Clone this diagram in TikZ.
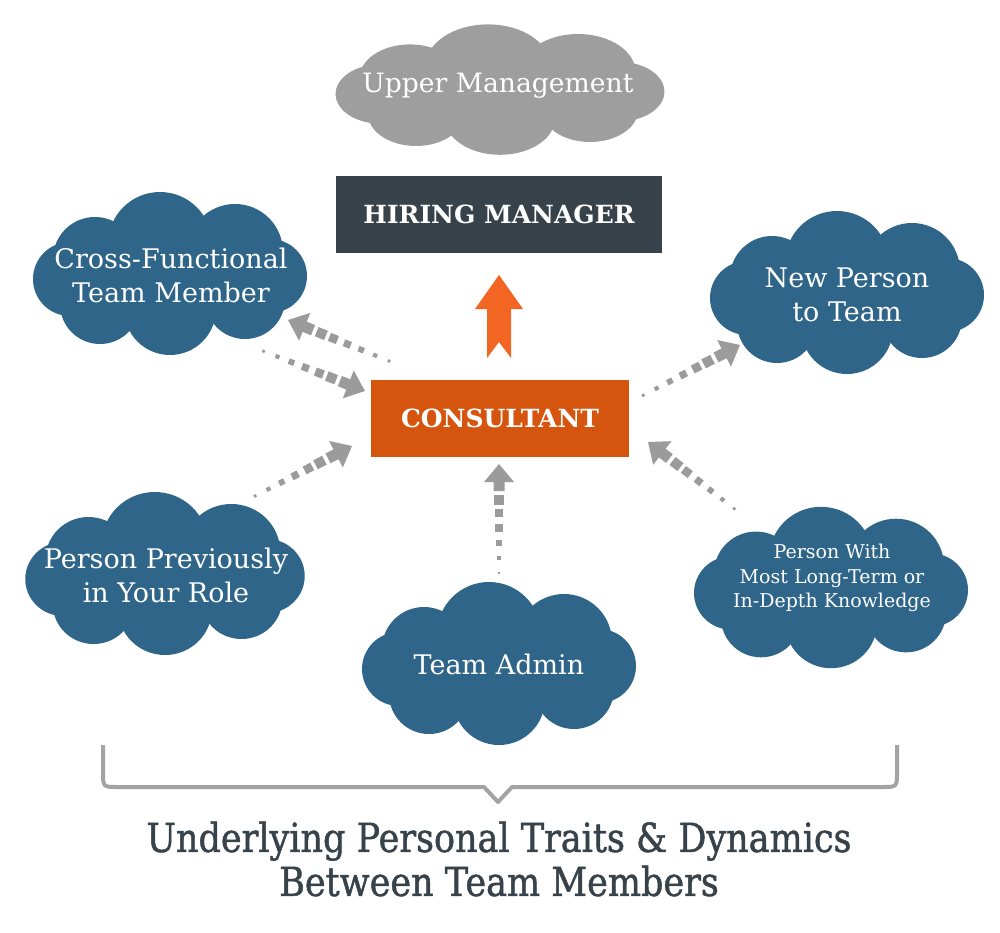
\documentclass[tikz,border=0pt]{standalone}
\usepackage{fontspec}
\setmainfont{DejaVu Serif}
\newfontfamily\bottomfont[FakeStretch=0.875,FakeBold=1.2]{DejaVu Serif}
\definecolor{cloudblue}{HTML}{2E6589}
\definecolor{cloudgray}{HTML}{9E9E9E}
\definecolor{hmdark}{HTML}{37424A}
\definecolor{consorange}{HTML}{D5550F}
\definecolor{uparrow}{HTML}{F26522}
\definecolor{arrowgray}{HTML}{9B9B9B}
\definecolor{bracegray}{HTML}{A3A3A3}
\usetikzlibrary{decorations.markings}
% cloud drawn as a union of ellipses: centre, xscale, yscale, colour
\newcommand\puffcloud[4]{%
  \begin{scope}[shift={(#1)}, xscale=#2, yscale=#3]
    \fill[#4] (0,0) ellipse [x radius=100, y radius=52];
    \fill[#4] (-10,-30) circle [radius=52];
    \fill[#4] (-75,-15) circle [radius=42];
    \fill[#4] (65,-22) circle [radius=48];
    \fill[#4] (-100,5) circle [radius=37];
    \fill[#4] (100,2) circle [radius=37];
    \fill[#4] (-70,30) circle [radius=40];
    \fill[#4] (0,35) circle [radius=46];
    \fill[#4] (75,25) circle [radius=40];
  \end{scope}}
\tikzset{
  cloudtext/.style={text=white, align=center, font=\fontsize{27}{34}\selectfont},
  boxshape/.style={minimum width=#1, minimum height=77pt, inner sep=0pt, text=white, font=\bfseries\fontsize{25}{28}\selectfont},
  dotarrow/.style={decorate, decoration={markings,
    mark=at position -109pt with {\fill[arrowgray] (-1.4pt,-1.4pt) rectangle (1.4pt,1.4pt);},
    mark=at position -94pt with {\fill[arrowgray] (-2.1pt,-2.1pt) rectangle (2.1pt,2.1pt);},
    mark=at position -79pt with {\fill[arrowgray] (-2.9pt,-2.9pt) rectangle (2.9pt,2.9pt);},
    mark=at position -64pt with {\fill[arrowgray] (-3.6pt,-3.6pt) rectangle (3.6pt,3.6pt);},
    mark=at position -49pt with {\fill[arrowgray] (-4.3pt,-4.3pt) rectangle (4.3pt,4.3pt);},
    mark=at position -36pt with {\fill[arrowgray] (-5pt,-5pt) rectangle (5pt,5pt);},
    mark=at position -0.5pt with {\fill[arrowgray] (0.5pt,0pt) -- (-17.5pt,15pt) -- (-17.5pt,5.5pt) -- (-26.5pt,5.5pt) -- (-26.5pt,-5.5pt) -- (-17.5pt,-5.5pt) -- (-17.5pt,-15pt) -- cycle;}
  }}
}
\begin{document}
\begin{tikzpicture}[x=1pt,y=-1pt]
\useasboundingbox (0,0) rectangle (1000,933);

% clouds
\puffcloud{500,90}{1.2}{0.8}{cloudgray}
\node[cloudtext, font=\fontsize{26.6}{34}\selectfont] (tum) at (498,86) {Upper Management};

\puffcloud{170,274}{1}{1}{cloudblue}
\node[cloudtext] (tcf) at (171,275) {Cross-Functional\\Team Member};

\puffcloud{847,293}{1}{1}{cloudblue}
\node[cloudtext] (tnp) at (847,295) {New Person\\to Team};

\puffcloud{165,574}{1.02}{1}{cloudblue}
\node[cloudtext] (tpp) at (166,575) {Person Previously\\in Your Role};

\puffcloud{499,664}{1}{1}{cloudblue}
\node[cloudtext] (tta) at (499,664) {Team Admin};

\puffcloud{831,588}{1}{0.99}{cloudblue}
\node[cloudtext, font=\fontsize{19}{24.5}\selectfont] (tpw) at (832,578) {Person With\\Most Long-Term or\\In-Depth Knowledge};

% boxes
\node[boxshape=326pt, fill=hmdark] (hm) at (499,214.5) {HIRING MANAGER};
\node[boxshape=258pt, fill=consorange] (cons) at (500,418) {CONSULTANT};

% orange up arrow
\fill[uparrow] (499,275) -- (523,309) -- (511,309) -- (511,358) -- (499,342) -- (487,358) -- (487,309) -- (475,309) -- cycle;

% dotted arrows
\coordinate (a1t) at (389,361); \coordinate (a1h) at (288,320);
\coordinate (a2t) at (263,351); \coordinate (a2h) at (365,391);
\coordinate (a3t) at (255,496); \coordinate (a3h) at (352,446);
\coordinate (a4t) at (638,398); \coordinate (a4h) at (740,345);
\coordinate (a5t) at (736,510); \coordinate (a5h) at (648,442);
\coordinate (a6t) at (499,575); \coordinate (a6h) at (499,464);
\path[dotarrow] (a1t) -- (a1h);
\path[dotarrow] (a2t) -- (a2h);
\path[dotarrow] (a3t) -- (a3h);
\path[dotarrow] (a4t) -- (a4h);
\path[dotarrow] (a5t) -- (a5h);
\path[dotarrow] (a6t) -- (a6h);

% brace
\draw[bracegray, line width=4pt, line join=round] (103,745) -- (103,772) .. controls (103,787) .. (118,787) -- (484,787) -- (498,802) -- (512,787) -- (882,787) .. controls (897,787) .. (897,772) -- (897,745);

\node[text=hmdark, align=center, font=\bottomfont\fontsize{40}{44}\selectfont] (bt) at (499,859) {Underlying Personal Traits \& Dynamics\\Between Team Members};
\end{tikzpicture}
\end{document}
